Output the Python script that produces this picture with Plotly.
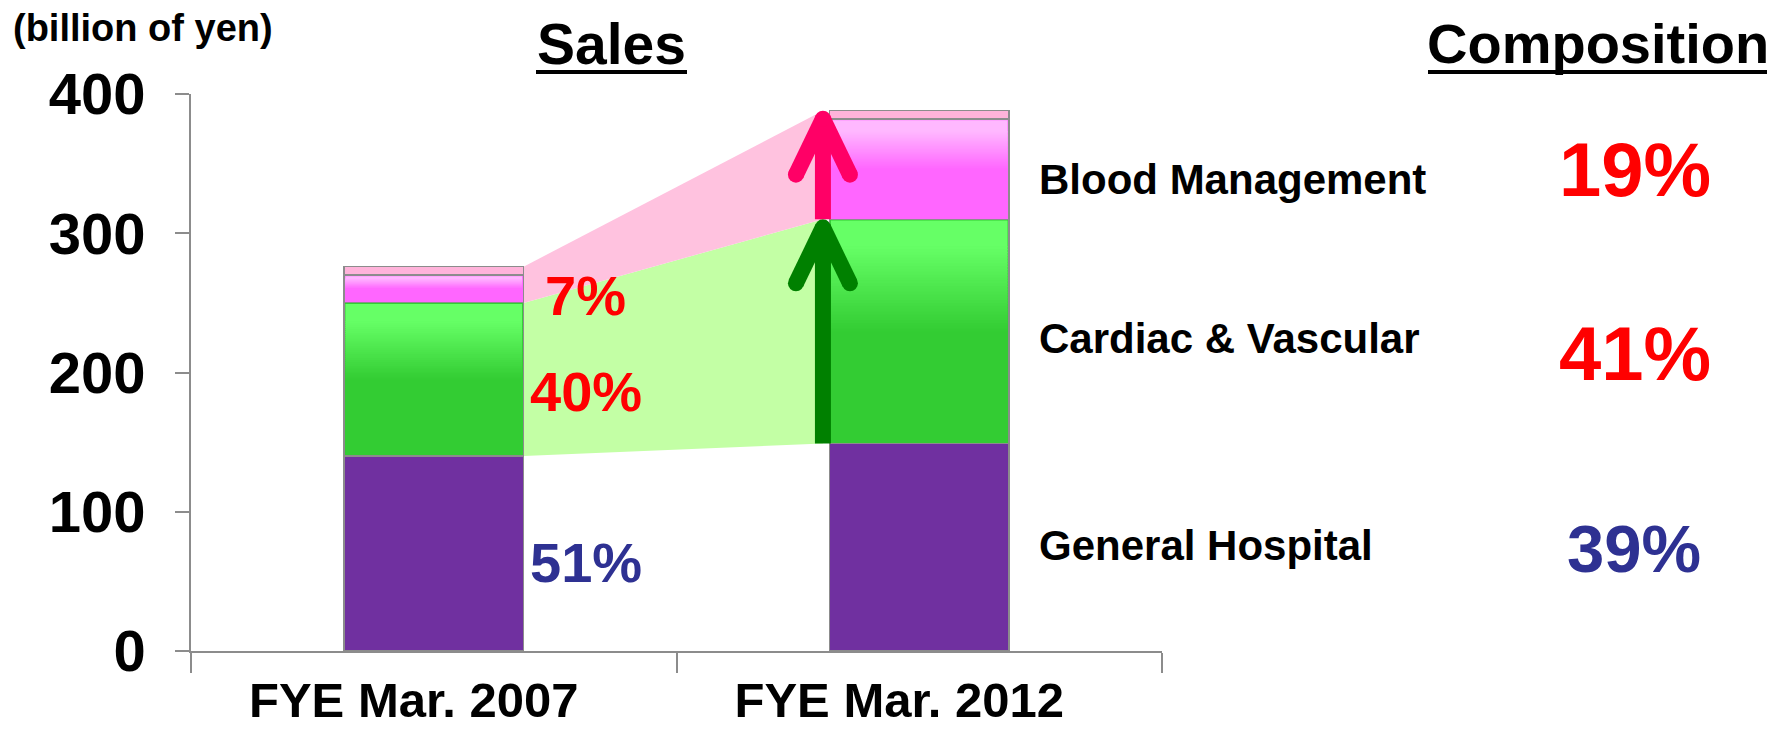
import plotly.graph_objects as go

# ---------------- data ----------------
categories = ["FYE Mar. 2007", "FYE Mar. 2012"]
general_hospital = [140, 149]
cardiac_vascular = [110, 161]
blood_management = [20, 72]
other = [6, 6]
segment_labels = ["General Hospital", "Cardiac & Vascular", "Blood Management"]
share_2007 = ["51%", "40%", "7%"]          # GH, CV, BM
composition_2012 = ["39%", "41%", "19%"]   # GH, CV, BM
y_ticks = [0, 100, 200, 300, 400]

# ---------------- layout constants ----------------
W, H = 1787, 732
L, R, T, B = 191, 625, 94, 81
PW = W - L - R
PH = H - T - B
YMAX = 400
PX_Y = PH / YMAX          # pixels per value unit
PX_X = PW / 2.0           # pixels per category
BAR_W = 0.37

SANS = "Liberation Sans, Arial, sans-serif"
RED = "#FF0000"
NAVY = "#2E3192"


def paper_x(px):
    return (px - L) / PW


def paper_y(py):
    return (H - B - py) / PH


gh_top = [g for g in general_hospital]
cv_top = [g + c for g, c in zip(general_hospital, cardiac_vascular)]
bm_top = [c + b for c, b in zip(cv_top, blood_management)]
total = [t + o for t, o in zip(bm_top, other)]

fig = go.Figure()
line_style = dict(color="#8C8C8C", width=1.2)
fig.add_trace(go.Bar(x=categories, y=general_hospital, name=segment_labels[0], width=BAR_W,
                     marker=dict(color="#7030A0", line=line_style)))
fig.add_trace(go.Bar(x=categories, y=cardiac_vascular, name=segment_labels[1], width=BAR_W,
                     marker=dict(color="#33CC33", line=line_style)))
fig.add_trace(go.Bar(x=categories, y=blood_management, name=segment_labels[2], width=BAR_W,
                     marker=dict(color="#FF66FF", line=line_style)))
fig.add_trace(go.Bar(x=categories, y=other, name="Other", width=BAR_W,
                     marker=dict(color="#FFB3DA", line=line_style)))

shapes = []

# ---- connecting bands between the two bars ----
x_left = 0 + BAR_W / 2
x_right = 1 - BAR_W / 2 - 6.5 / PX_X      # arrow position
arrow_x = x_right


def band(y0a, y1a, y0b, y1b, color):
    path = (f"M {x_left},{y0a} L {x_right},{y0b} L {x_right},{y1b} "
            f"L {x_left},{y1a} Z")
    return dict(type="path", path=path, xref="x", yref="y", layer="below",
                fillcolor=color, line=dict(width=0))


shapes.append(band(gh_top[0], cv_top[0], gh_top[1], cv_top[1], "#C3FFA5"))
shapes.append(band(cv_top[0], total[0], cv_top[1], total[1], "#FFC2DF"))


# ---- gradient highlights on the top part of green / magenta segments ----
def hex2rgb(h):
    h = h.lstrip("#")
    return tuple(int(h[i:i + 2], 16) for i in (0, 2, 4))


def mix(c1, c2, t):
    a, b = hex2rgb(c1), hex2rgb(c2)
    return "rgb(%d,%d,%d)" % tuple(round(a[k] + (b[k] - a[k]) * t) for k in range(3))


def gradient(i, bottom, top, light, dark, n=30):
    h = top - bottom
    inset_x = 1.5 / PX_X
    inset_y = 1.2 / PX_Y
    overlap = 1.0 / PX_Y
    x0 = i - BAR_W / 2 + inset_x
    x1 = i + BAR_W / 2 - inset_x
    f_edges = [0.0, 0.12] + [0.12 + (0.5 - 0.12) * k / n for k in range(1, n + 1)]
    for k in range(len(f_edges) - 1):
        fa, fb = f_edges[k], f_edges[k + 1]
        fm = (fa + fb) / 2
        t = 0 if fm < 0.12 else (fm - 0.12) / (0.5 - 0.12)
        ya = top - fa * h - (inset_y if k == 0 else 0)
        yb = top - fb * h - (overlap if k < len(f_edges) - 2 else 0)
        shapes.append(dict(type="rect", xref="x", yref="y", x0=x0, x1=x1,
                           y0=yb, y1=ya, layer="above",
                           fillcolor=mix(light, dark, t), line=dict(width=0)))


for i in range(2):
    gradient(i, gh_top[i], cv_top[i], "#66FF66", "#33CC33")
    gradient(i, cv_top[i], bm_top[i], "#FFB8FF", "#FF66FF")


# ---- arrows ----
def arrow(base, tip, color):
    sw = 16
    dx, dy = 27, 56
    shapes.append(dict(type="rect", xref="x", yref="y", xsizemode="pixel",
                       xanchor=arrow_x, x0=-sw / 2, x1=sw / 2,
                       y0=base, y1=tip - (sw / 2) / PX_Y - 2 / PX_Y,
                       fillcolor=color, line=dict(width=0), layer="above"))
    for s in (-1, 1):
        shapes.append(dict(type="line", xref="x", yref="y", xsizemode="pixel",
                           ysizemode="pixel", xanchor=arrow_x, yanchor=tip,
                           x0=0, y0=-sw / 2, x1=s * dx, y1=-sw / 2 - dy,
                           line=dict(color=color, width=sw), layer="above"))
    for cx, cy in ((0, -sw / 2), (-dx, -sw / 2 - dy), (dx, -sw / 2 - dy)):
        shapes.append(dict(type="circle", xref="x", yref="y", xsizemode="pixel",
                           ysizemode="pixel", xanchor=arrow_x, yanchor=tip,
                           x0=cx - sw / 2, x1=cx + sw / 2,
                           y0=cy - sw / 2, y1=cy + sw / 2,
                           fillcolor=color, line=dict(width=0), layer="above"))


arrow(gh_top[1], cv_top[1], "#008000")
arrow(cv_top[1], total[1], "#FF0066")

# ---- title underlines ----
for x0, x1 in ((536, 687), (1428, 1767)):
    shapes.append(dict(type="line", xref="paper", yref="paper",
                       x0=paper_x(x0), x1=paper_x(x1),
                       y0=paper_y(72), y1=paper_y(72),
                       line=dict(color="black", width=4)))

annotations = []


def ann(text, x, y, size, color="black", xanchor="center"):
    annotations.append(dict(text=text, x=x, y=y, xref="paper", yref="paper",
                            xanchor=xanchor, yanchor="middle", showarrow=False,
                            font=dict(family=SANS, size=size, color=color, weight="bold")))


ann("(billion of yen)", paper_x(11), paper_y(28), 38, xanchor="left")
ann("Sales", paper_x(611.5), paper_y(44), 57)
ann("Composition", paper_x(1597.5), paper_y(44), 56)

# 2007 share labels
ann(share_2007[2], paper_x(585), paper_y(295), 56, RED)
ann(share_2007[1], paper_x(586), paper_y(391), 56, RED)
ann(share_2007[0], paper_x(586), paper_y(562), 56, NAVY)

# segment names
ann(segment_labels[2], paper_x(1037), paper_y(179), 42, xanchor="left")
ann(segment_labels[1], paper_x(1037), paper_y(338), 42, xanchor="left")
ann(segment_labels[0], paper_x(1037), paper_y(545), 42, xanchor="left")

# composition
ann(composition_2012[2], paper_x(1635), paper_y(169), 76, RED)
ann(composition_2012[1], paper_x(1635), paper_y(353), 76, RED)
ann(composition_2012[0], paper_x(1634), paper_y(548), 67, NAVY)

fig.update_layout(
    width=W, height=H, barmode="stack", showlegend=False,
    margin=dict(l=L, r=R, t=T, b=B, pad=0, autoexpand=False),
    plot_bgcolor="white", paper_bgcolor="white",
    shapes=shapes, annotations=annotations,
    xaxis=dict(type="category", range=[-0.5, 1.5], showline=True, automargin=False,
               linecolor="#8C8C8C", linewidth=1.5, ticks="outside",
               tickson="boundaries", ticklen=20, tickcolor="#8C8C8C",
               tickwidth=1.5, showgrid=False, zeroline=False,
               ticklabelshift=-20, ticklabelstandoff=5,
               tickfont=dict(family=SANS, size=49, color="black", weight="bold")),
    yaxis=dict(range=[0, YMAX], tickvals=y_ticks, showline=True, automargin=False,
               linecolor="#8C8C8C", linewidth=1.5, ticks="outside", ticklen=14,
               tickcolor="#8C8C8C", tickwidth=1.5, showgrid=False, zeroline=False,
               ticklabelstandoff=18,
               tickfont=dict(family=SANS, size=58, color="black", weight="bold")),
)

fig.write_html("out.html")
